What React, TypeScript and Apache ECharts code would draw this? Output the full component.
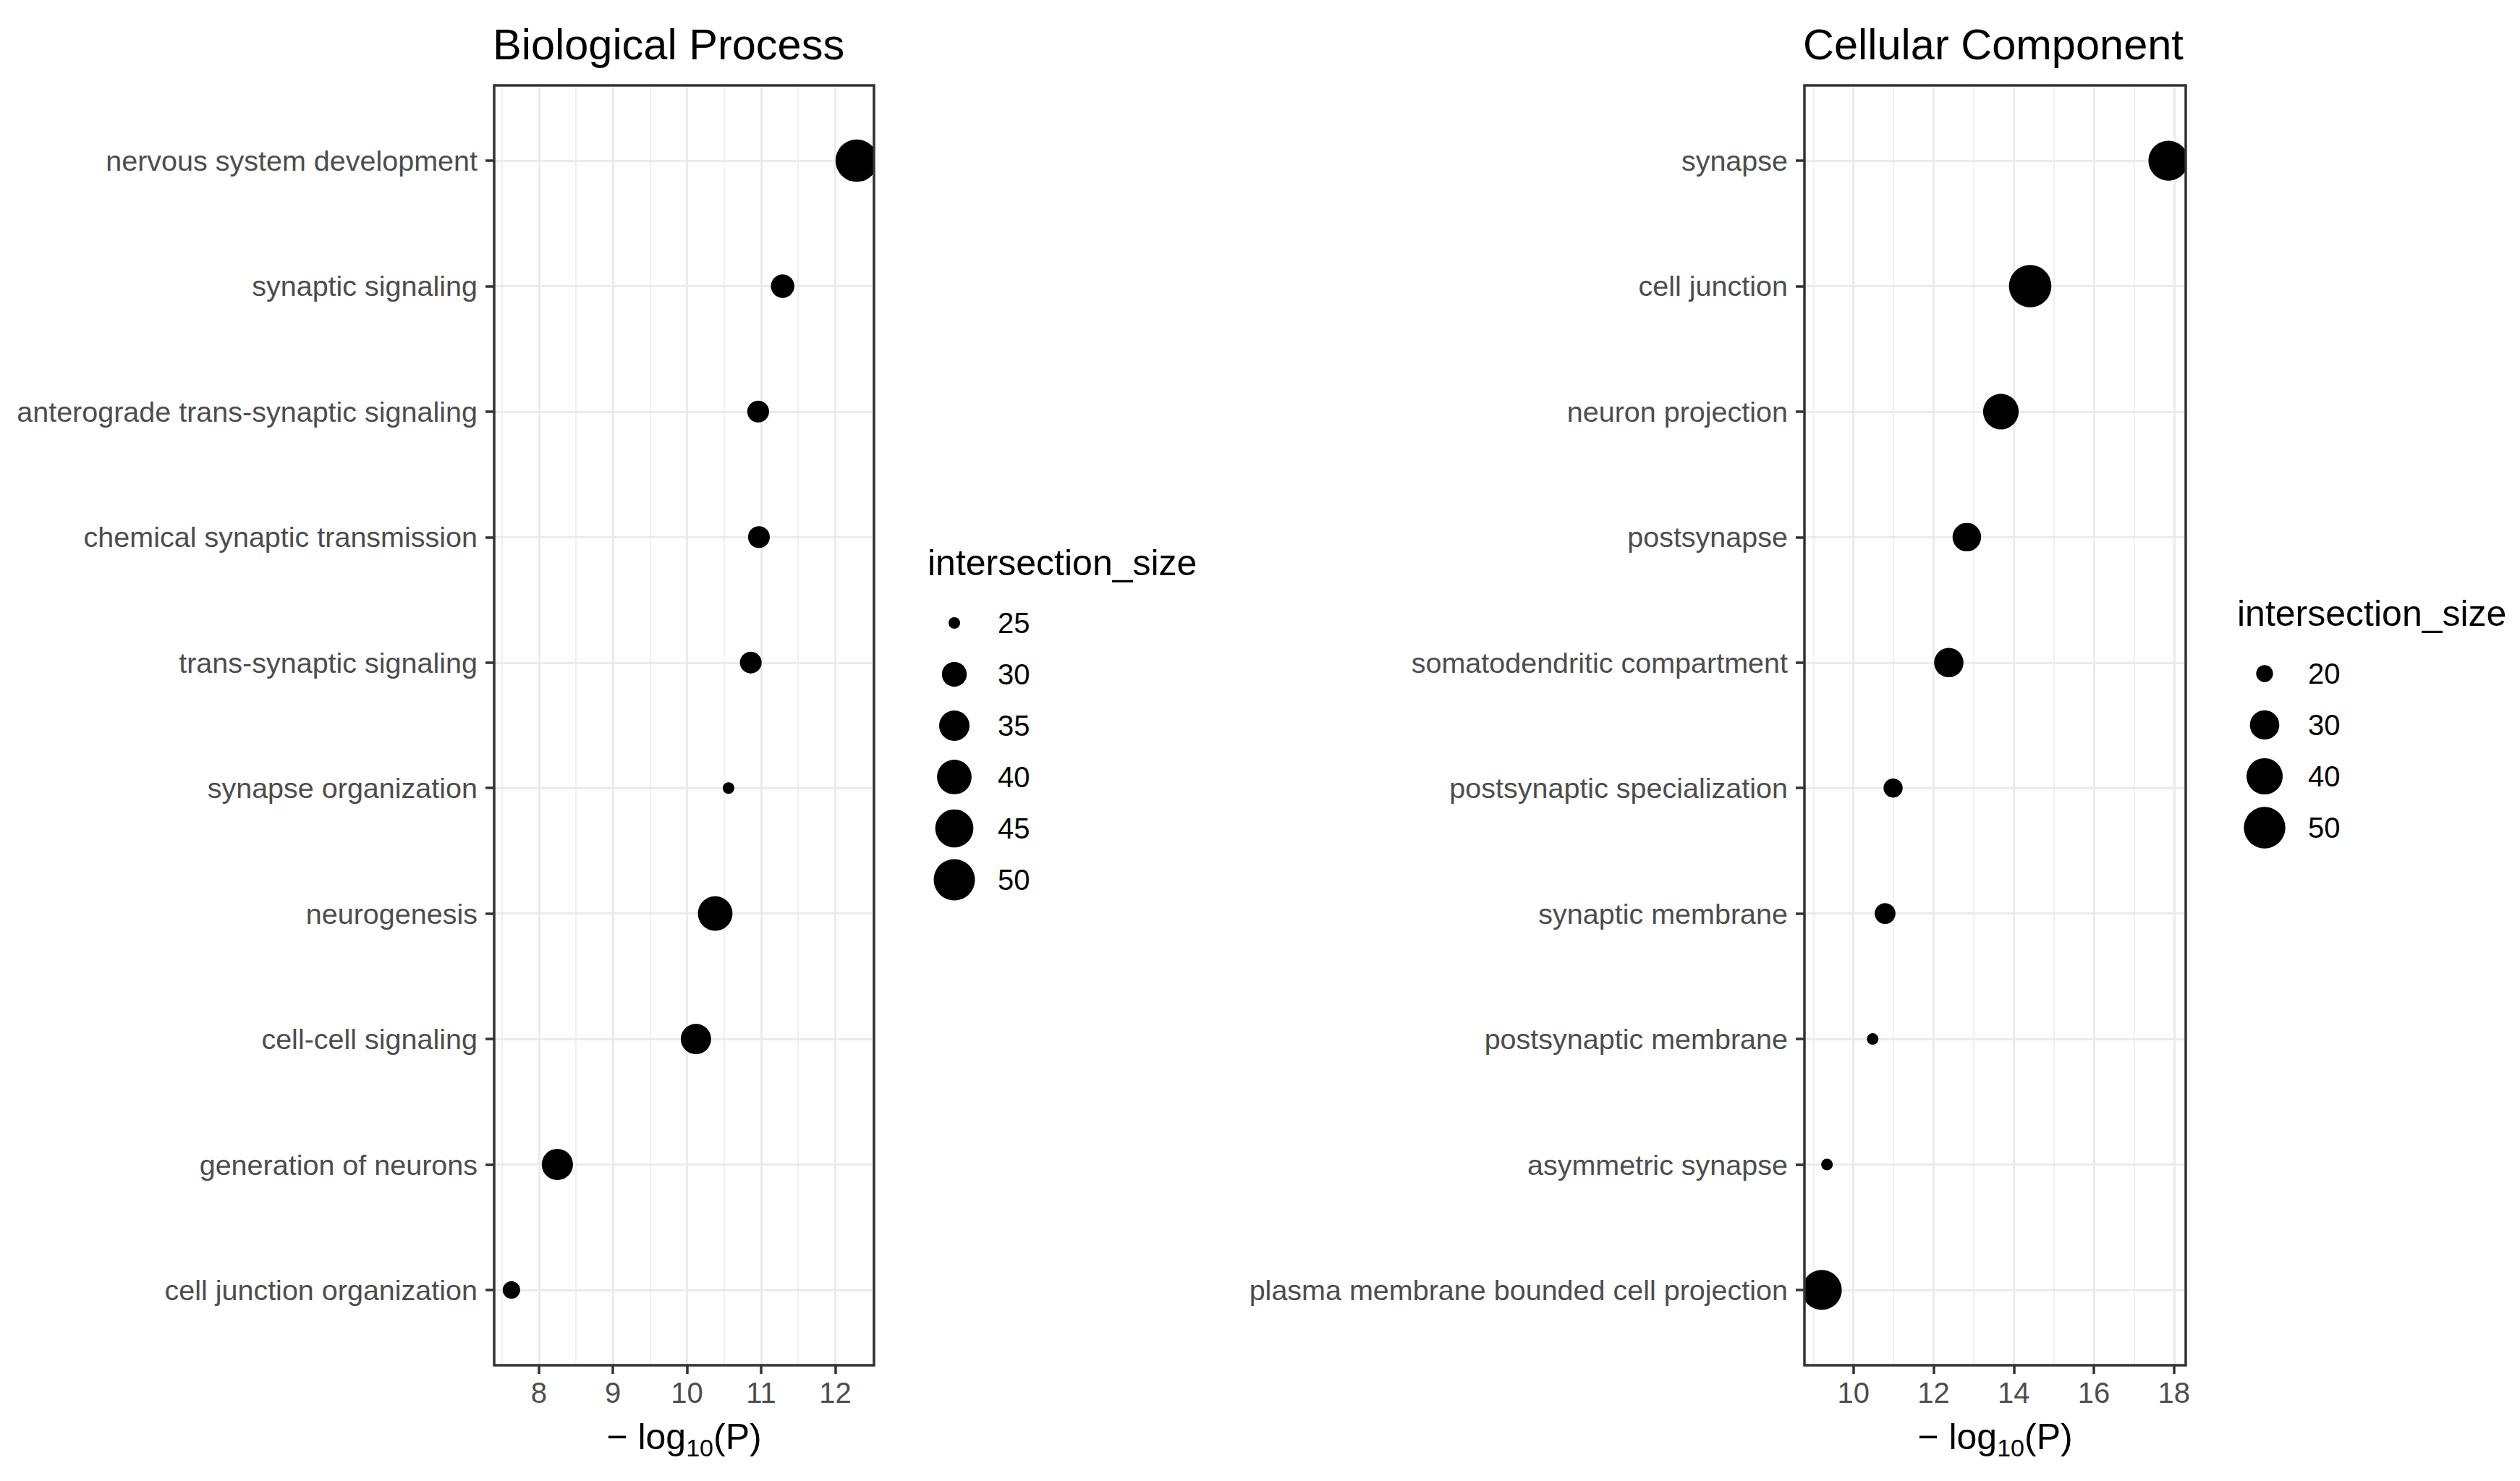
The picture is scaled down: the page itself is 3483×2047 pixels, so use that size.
import React, { useEffect, useRef } from 'react';
import * as echarts from 'echarts';

// ---- Biological Process ----
const bpTerms = [
  'nervous system development',
  'synaptic signaling',
  'anterograde trans-synaptic signaling',
  'chemical synaptic transmission',
  'trans-synaptic signaling',
  'synapse organization',
  'neurogenesis',
  'cell-cell signaling',
  'generation of neurons',
  'cell junction organization',
];
const bpLogP = [12.29, 11.29, 10.96, 10.97, 10.86, 10.56, 10.38, 10.12, 8.25, 7.63];
const bpSize = [52, 29, 28, 28, 28, 25, 40, 35, 36, 26];
const bpTicks = [8, 9, 10, 11, 12];
const bpSizeBreaks = [25, 30, 35, 40, 45, 50];

// ---- Cellular Component ----
const ccTerms = [
  'synapse',
  'cell junction',
  'neuron projection',
  'postsynapse',
  'somatodendritic compartment',
  'postsynaptic specialization',
  'synaptic membrane',
  'postsynaptic membrane',
  'asymmetric synapse',
  'plasma membrane bounded cell projection',
];
const ccLogP = [17.86, 14.41, 13.68, 12.83, 12.38, 10.99, 10.79, 10.48, 9.34, 9.21];
const ccSize = [47, 52, 39, 29, 30, 21, 22, 19, 19, 47];
const ccTicks = [10, 12, 14, 16, 18];
const ccSizeBreaks = [20, 30, 40, 50];

const W = 3483;
const H = 2047;
const FONT = '"Liberation Sans", Arial, Helvetica, sans-serif';
const GRID_LINE = '#EBEBEB';
const FRAME = '#333333';
const AXIS_TEXT = '#4D4D4D';

// 5% padding on both ends of a continuous range
function expandRange(values: number[]): [number, number] {
  const lo = Math.min(...values);
  const hi = Math.max(...values);
  const pad = (hi - lo) * 0.05;
  return [lo - pad, hi + pad];
}

// area scale: diameter grows with the square root of the rescaled count
function sizeScale(values: number[]) {
  const lo = Math.min(...values);
  const hi = Math.max(...values);
  return (v: number) => 16 + 42.6 * Math.sqrt(Math.max(0, (v - lo) / (hi - lo)));
}

type Panel = {
  title: string;
  terms: string[];
  logP: number[];
  size: number[];
  ticks: number[];
  breaks: number[];
  box: { left: number; top: number; width: number; height: number };
  legend: { titleX: number; titleY: number; firstY: number; step: number; keyX: number; labelX: number };
};

const panels: Panel[] = [
  {
    title: 'Biological Process',
    terms: bpTerms,
    logP: bpLogP,
    size: bpSize,
    ticks: bpTicks,
    breaks: bpSizeBreaks,
    box: { left: 683, top: 118, width: 525, height: 1769 },
    legend: { titleX: 1282, titleY: 778, firstY: 861, step: 71, keyX: 1319, labelX: 1379 },
  },
  {
    title: 'Cellular Component',
    terms: ccTerms,
    logP: ccLogP,
    size: ccSize,
    ticks: ccTicks,
    breaks: ccSizeBreaks,
    box: { left: 2494, top: 118, width: 527, height: 1769 },
    legend: { titleX: 3092, titleY: 848, firstY: 931, step: 71, keyX: 3130, labelX: 3190 },
  },
];

function buildOption() {
  const grids: any[] = [];
  const xAxes: any[] = [];
  const yAxes: any[] = [];
  const series: any[] = [];
  const graphics: any[] = [];

  panels.forEach((p, k) => {
    const [lo, hi] = expandRange(p.logP);
    const n = p.terms.length;
    const idx = p.terms.map((_, i) => i);
    const diam = sizeScale(p.size);

    grids.push({
      left: p.box.left,
      top: p.box.top,
      width: p.box.width,
      height: p.box.height,
      show: true,
      backgroundColor: 'transparent',
      borderColor: FRAME,
      borderWidth: 3.5,
      containLabel: false,
      outerBoundsMode: 'none',
      z: 5,
    });

    xAxes.push({
      type: 'value',
      gridIndex: k,
      position: 'bottom',
      min: lo,
      max: hi,
      splitNumber: 5,
      axisLine: { show: false, onZero: false },
      axisTick: {
        show: true,
        inside: false,
        length: 12,
        customValues: p.ticks,
        lineStyle: { color: FRAME, width: 3.5 },
      },
      axisLabel: {
        customValues: p.ticks,
        fontSize: 40,
        fontFamily: FONT,
        color: AXIS_TEXT,
        margin: 18,
      },
      splitLine: { show: true, lineStyle: { color: GRID_LINE, width: 3 } },
      minorTick: { show: false, splitNumber: 2 },
      minorSplitLine: { show: true, lineStyle: { color: GRID_LINE, width: 1.5 } },
      name: '{m|− log}{s|10}{m|(P)}',
      nameLocation: 'middle',
      nameGap: 67,
      nameTextStyle: {
        rich: {
          m: { fontSize: 50, lineHeight: 64, fontFamily: FONT, color: '#000' },
          s: { fontSize: 34, lineHeight: 34, fontFamily: FONT, color: '#000', verticalAlign: 'bottom' },
        },
      },
    });

    yAxes.push({
      type: 'value',
      gridIndex: k,
      position: 'left',
      inverse: true,
      min: -0.6,
      max: n - 1 + 0.6,
      splitNumber: 10,
      axisLine: { show: false, onZero: false },
      axisTick: {
        show: true,
        inside: false,
        length: 12,
        customValues: idx,
        lineStyle: { color: FRAME, width: 3.5 },
      },
      axisLabel: {
        customValues: idx,
        formatter: (v: number) => p.terms[Math.round(v)] ?? '',
        fontSize: 39.5,
        fontFamily: FONT,
        color: AXIS_TEXT,
        margin: 23,
      },
      splitLine: { show: true, lineStyle: { color: GRID_LINE, width: 3 } },
    });

    series.push({
      type: 'custom',
      name: p.title,
      xAxisIndex: k,
      yAxisIndex: k,
      clip: true,
      z: 2,
      encode: { x: 0, y: 1 },
      data: p.logP.map((v, i) => [v, i, p.size[i]]),
      renderItem: (_params: any, api: any) => {
        const c = api.coord([api.value(0), api.value(1)]);
        const r = diam(api.value(2) as number) / 2;
        return {
          type: 'circle',
          shape: { cx: c[0], cy: c[1], r },
          style: { fill: '#000000' },
        };
      },
    });

    // panel title
    graphics.push({
      type: 'text',
      x: p.box.left - 2,
      y: 61,
      style: {
        text: p.title,
        fontSize: 59.5,
        fontFamily: FONT,
        fill: '#000',
        align: 'left',
        verticalAlign: 'middle',
      },
    });

    // size legend
    const L = p.legend;
    graphics.push({
      type: 'text',
      x: L.titleX,
      y: L.titleY,
      style: {
        text: 'intersection_size',
        fontSize: 50,
        fontFamily: FONT,
        fill: '#000',
        align: 'left',
        verticalAlign: 'middle',
      },
    });
    p.breaks.forEach((b, i) => {
      const y = L.firstY + i * L.step;
      graphics.push({
        type: 'circle',
        shape: { cx: L.keyX, cy: y, r: diam(b) / 2 },
        style: { fill: '#000000' },
      });
      graphics.push({
        type: 'text',
        x: L.labelX,
        y,
        style: {
          text: String(b),
          fontSize: 40,
          fontFamily: FONT,
          fill: '#000',
          align: 'left',
          verticalAlign: 'middle',
        },
      });
    });
  });

  return {
    animation: false,
    backgroundColor: '#ffffff',
    grid: grids,
    xAxis: xAxes,
    yAxis: yAxes,
    series,
    graphic: graphics,
  };
}

export default function App() {
  const ref = useRef<HTMLDivElement>(null);

  useEffect(() => {
    if (!ref.current) return;
    const chart = echarts.init(ref.current, undefined, { renderer: 'svg', width: W, height: H });
    chart.setOption(buildOption());
    return () => {
      chart.dispose();
    };
  }, []);

  return (
    <div
      ref={ref}
      style={{ position: 'fixed', left: 0, top: 0, width: W, height: H, background: '#ffffff' }}
    />
  );
}
